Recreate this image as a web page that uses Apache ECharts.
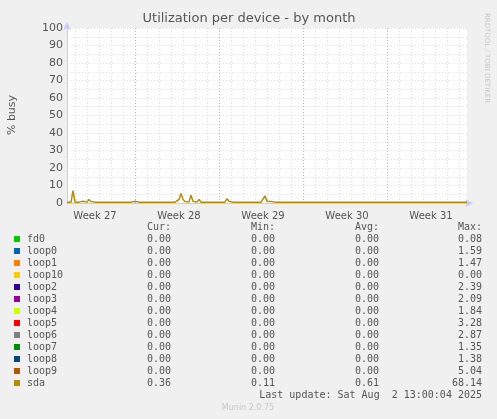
<!DOCTYPE html>
<html><head><meta charset="utf-8">
<script src="https://cdn.jsdelivr.net/npm/echarts@6/dist/echarts.min.js"></script>
<style>html,body{margin:0;padding:0;background:#f0f0f0}#c{width:497px;height:419px}</style>
</head><body><div id="c"></div>
<script>
var weekLabels = ['Week 27','Week 28','Week 29','Week 30','Week 31'];
var sda = [
0.5,0.5,0.5,7,0.5,0.5,0.5,0.5,1,0.5, 0.5,2,0.8,0.5,0.5,0.5,0.5,1.5,0.5,0.5,
0.5,0.5,0.5,0.5,0.5,0.5,0.5,0.5,0.5,0.5, 0.5,0.5,0.5,0.5,1,0.5,0.5,0.5,0.5,0.5,
0.5,0.5,0.5,0.5,0.5,0.5,0.5,0.5,0.5,0.5, 0.5,0.5,0.5,0.5,0.5,0.5,2,5.5,2,0.8,
1,0.5,4.5,1,0.5,0.5,2,0.5,0.5,0.5, 0.5,0.5,0.5,0.5,0.5,0.5,0.5,0.5,0.5,0.5,
2.5,1,0.5,0.5,0.5,0.5,0.5,0.5,0.5,0.5, 0.5,0.5,0.5,0.5,0.5,0.5,0.5,0.5,0.5,4,
1,1,0.8,0.5,0.5,0.5,0.5,0.5,0.5,0.5, 0.5,0.5,0.5,0.5,0.5,0.5,0.5,0.5,0.5,0.5,
0.5,0.5,0.5,0.5,0.5,0.5,0.5,0.5,0.5,0.5, 0.5,0.5,0.5,0.5,0.5,0.5,0.5,0.5,0.5,0.5,
0.5,0.5,0.5,0.5,0.5,0.5,0.5,1.5,0.5,0.5, 0.5,0.5,0.5,0.5,0.5,0.5,0.5,0.5,0.5,0.5,
0.5,0.5,0.5,0.5,0.5,0.5,0.5,0.5,0.5,0.5, 0.5,0.5,0.5,0.5,0.5,0.5,0.5,0.5,0.5,0.5,
0.5,0.5,0.5,0.5,0.5,0.5,0.5,0.5,0.5,0.5, 0.5,0.5,0.5,0.5,0.5,0.5,0.5,0.5,0.5,0.5,
0.5];
var devices = ['fd0','loop0','loop1','loop10','loop2','loop3','loop4','loop5','loop6','loop7','loop8','loop9','sda'];
var colors = ['#00cc00','#0066b3','#ff8000','#ffcc00','#330099','#990099','#ccff00','#ff0000','#808080','#008f00','#00487d','#b35a00','#b38f00'];
var cur = ['0.00','0.00','0.00','0.00','0.00','0.00','0.00','0.00','0.00','0.00','0.00','0.00','0.36'];
var mins = ['0.00','0.00','0.00','0.00','0.00','0.00','0.00','0.00','0.00','0.00','0.00','0.00','0.11'];
var avgs = ['0.00','0.00','0.00','0.00','0.00','0.00','0.00','0.00','0.00','0.00','0.00','0.00','0.61'];
var maxs = ['0.08','1.59','1.47','0.00','2.39','2.09','1.84','3.28','2.87','1.35','1.38','5.04','68.14'];

var cats = sda.map(function(v,i){return String(i);});
var mono = 'DejaVu Sans Mono';
var g = [];
function txt(x,y,t,align,color,size,font){g.push({type:'text',x:x,y:y,style:{text:t,align:align,verticalAlign:'middle',fill:color||'#555',font:(size||10)+'px "'+(font||mono)+'"'}});}
txt(171,227,'Cur:','right'); txt(275,227,'Min:','right'); txt(379,227,'Avg:','right'); txt(482,227,'Max:','right');
devices.forEach(function(d,i){
  var y=239+i*12;
  g.push({type:'rect',shape:{x:14,y:y-3,width:6,height:6},style:{fill:colors[i]}});
  txt(27,y,d,'left'); txt(171,y,cur[i],'right'); txt(275,y,mins[i],'right'); txt(379,y,avgs[i],'right'); txt(482,y,maxs[i],'right');
});
txt(482,395,'Last update: Sat Aug  2 13:00:04 2025','right');
txt(248,408,'Munin 2.0.75','center','#c8c8c8',8,'DejaVu Sans');
txt(249,19,'Utilization per device - by month','center','#555',13,'DejaVu Sans');
g.push({type:'text',x:12,y:115,rotation:Math.PI/2,style:{text:'% busy',align:'center',verticalAlign:'middle',fill:'#555',font:'11px "DejaVu Sans"'}});
g.push({type:'text',x:487,y:58,rotation:-Math.PI/2,style:{text:'RRDTOOL / TOBI OETIKER',align:'center',verticalAlign:'middle',fill:'#c8c8c8',font:'7px "DejaVu Sans"'}});

var chart = echarts.init(document.getElementById('c'));
chart.setOption({
  backgroundColor:'#f0f0f0', animation:false,
  grid:{left:67,top:28,width:400,height:175,show:true,backgroundColor:'#fff',borderWidth:0},
  xAxis:[
   {type:'category',data:cats,boundaryGap:false,
    axisLine:{lineStyle:{color:'#c8c8ff'},symbol:['none','arrow'],symbolSize:[6,8],symbolOffset:[0,6]},
    axisTick:{show:false},
    axisLabel:{interval:function(i){return (i-14)%42===0;},formatter:function(v,i){return weekLabels[(i-14)/42]||'';},color:'#555',fontSize:10,fontFamily:'DejaVu Sans',margin:8},
    splitLine:{show:true,interval:function(i){return i%6===4 && i%42!==34;},lineStyle:{color:'#ddd',type:[1,2]}}},
   {type:'category',data:cats,boundaryGap:false,position:'bottom',axisLine:{show:false},axisTick:{show:false},axisLabel:{show:false},
    splitLine:{show:true,interval:function(i){return i%42===34;},lineStyle:{color:'#e8a0a0',type:[1,2]}}}
  ],
  yAxis:[
   {type:'value',min:0,max:100,interval:10,
    axisLine:{show:true,lineStyle:{color:'#c8c8ff'},symbol:['none','arrow'],symbolSize:[6,8],symbolOffset:[0,6]},
    axisTick:{show:false},axisLabel:{color:'#555',fontSize:11,fontFamily:'DejaVu Sans',margin:4},
    splitLine:{lineStyle:{color:'#e8a0a0',type:[1,2]}}},
   {type:'value',min:0,max:100,interval:5,position:'left',axisLine:{show:false},axisTick:{show:false},axisLabel:{show:false},
    splitLine:{lineStyle:{color:'#ddd',type:[1,2]}}}
  ],
  series:[{type:'line',data:sda,xAxisIndex:0,yAxisIndex:0,symbol:'none',lineStyle:{color:'#b38f00',width:1.5},z:5}],
  graphic:g
});
</script></body></html>
